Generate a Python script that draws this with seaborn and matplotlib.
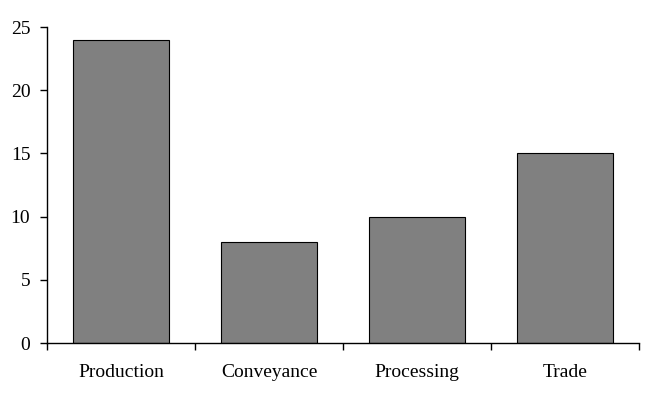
import numpy as np
import pandas as pd
import matplotlib
matplotlib.use("Agg")
import matplotlib.pyplot as plt
import seaborn as sns

categories = ["Production", "Conveyance", "Processing", "Trade"]
values = [24, 8, 10, 15]

df = pd.DataFrame({"cat": categories, "val": values})

sns.set_style("white")
plt.rcParams['font.family'] = ['Liberation Serif', 'DejaVu Serif']

fig = plt.figure(figsize=(6.5, 3.99), dpi=100)
ax = fig.add_axes([47/650, 56/399, 592/650, 316/399])
sns.barplot(data=df, x="cat", y="val", color="#808080", saturation=1,
            edgecolor="black", linewidth=0.8, width=0.655, ax=ax)

ax.set_xlim(-0.5, 3.5)
ax.set_ylim(0, 25)
ax.set_yticks(np.arange(0, 26, 5))
ax.set_xlabel("")
ax.set_ylabel("")
for s in ["top", "right"]:
    ax.spines[s].set_visible(False)
for s in ["left", "bottom"]:
    ax.spines[s].set_color("black")
    ax.spines[s].set_linewidth(1)

# tick marks between categories, labels centered
ax.set_xticks(np.arange(-0.5, 4, 1), minor=True)
ax.tick_params(axis="x", which="major", bottom=False, length=0, labelsize=14,
               labelcolor="black", pad=15)
ax.tick_params(axis="x", which="minor", bottom=True, length=5, width=1, color="black", direction="out")
ax.tick_params(axis="y", left=True, length=5, width=1, color="black", direction="out",
               labelsize=14, labelcolor="black", pad=7)

fig.savefig("out.png", dpi=100)
